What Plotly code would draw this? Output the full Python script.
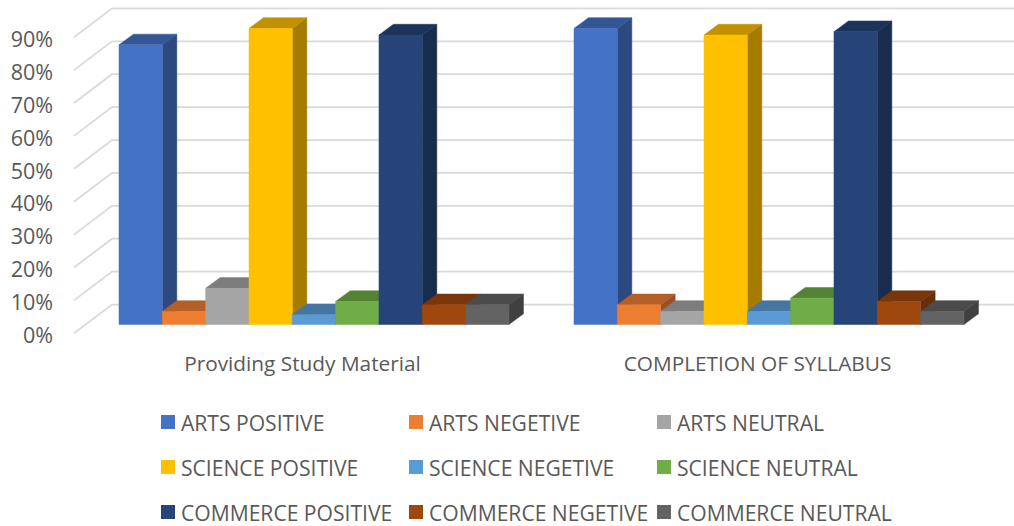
import plotly.graph_objects as go

groups = ["Providing Study Material", "COMPLETION OF SYLLABUS"]
series = ["ARTS POSITIVE", "ARTS NEGETIVE", "ARTS NEUTRAL",
          "SCIENCE POSITIVE", "SCIENCE NEGETIVE", "SCIENCE NEUTRAL",
          "COMMERCE POSITIVE", "COMMERCE NEGETIVE", "COMMERCE NEUTRAL"]
study_material = [85, 4, 11, 90, 3, 7, 88, 6, 6]
syllabus = [90, 6, 4, 88, 4, 8, 89, 7, 4]
colors = ["#4472C4", "#ED7D31", "#A5A5A5", "#FFC000", "#5B9BD5", "#70AD47", "#264478", "#9E480E", "#636363"]
y_ticks = [0, 10, 20, 30, 40, 50, 60, 70, 80, 90]

W, H = 1014, 526
PX_PER_PCT = 3.29
BASE_PX = 324.5     # where 0% of the bars sits
LABEL_PX = 335.5    # where the 0% label sits
BAR_W = 43.33
GROUP_STEP = 455
FIRST_BAR = 119
DEPTH_X = 14.5      # bar depth, px across
DEPTH_Y = 10.7 / PX_PER_PCT
TEXT = "#595959"
FONT = "Open Sans"


def shade(hex_color, k):
    r, g, b = [int(hex_color[i:i + 2], 16) for i in (1, 3, 5)]
    return "rgb(%d,%d,%d)" % (r * k, g * k, b * k)


def face(xs, ys, color):
    return go.Scatter(x=xs, y=ys, mode="lines", fill="toself", fillcolor=color,
                      line=dict(color=color, width=0.5), hoverinfo="skip", showlegend=False)


fig = go.Figure()

# back wall and the slanted side wall
wall_front = (BASE_PX - 333.3) / PX_PER_PCT
wall_back = (BASE_PX - 304.5) / PX_PER_PCT
for t in y_ticks:
    fig.add_trace(go.Scatter(x=[74, 112, W], y=[t + wall_front, t + wall_back, t + wall_back],
                             mode="lines", line=dict(color="#D9D9D9", width=1.75),
                             hoverinfo="skip", showlegend=False))

# bars, painted left to right so each one covers the side of the one before
for g, values in enumerate([study_material, syllabus]):
    for i, v in enumerate(values):
        left = FIRST_BAR + g * GROUP_STEP + i * BAR_W
        right = left + BAR_W
        c = colors[i]
        fig.add_trace(face([right, right + DEPTH_X, right + DEPTH_X, right, right],
                           [0, DEPTH_Y, v + DEPTH_Y, v, 0], shade(c, 0.65)))
        fig.add_trace(face([left, left + DEPTH_X, right + DEPTH_X, right, left],
                           [v, v + DEPTH_Y, v + DEPTH_Y, v, v], shade(c, 0.76)))
        fig.add_trace(face([left, right, right, left, left], [0, 0, v, v, 0], c))

# carries the percent labels, which sit on the front edge of the side wall
fig.add_trace(go.Scatter(x=[74] * len(y_ticks), y=y_ticks, yaxis="y2", mode="markers",
                         marker=dict(opacity=0), hoverinfo="skip", showlegend=False))

# legend, 3 x 3
shapes = []
annotations = []
for i, name in enumerate(series):
    col_x = 161 + (i % 3) * 248
    row_y = 422 + (i // 3) * 45
    shapes.append(dict(type="rect", xref="x", yref="paper", x0=col_x, x1=col_x + 14,
                       y0=1 - (row_y - 7) / H, y1=1 - (row_y + 7) / H,
                       fillcolor=colors[i], line=dict(width=0)))
    annotations.append(dict(text=name, xref="x", yref="paper", x=col_x + 18, y=1 - row_y / H,
                            xanchor="left", yanchor="middle", showarrow=False,
                            font=dict(family=FONT, size=21.1, color=TEXT)))

fig.update_layout(
    width=W, height=H, autosize=False,
    margin=dict(l=0, r=0, t=0, b=0),
    paper_bgcolor="white", plot_bgcolor="white",
    showlegend=False, shapes=shapes, annotations=annotations,
    xaxis=dict(range=[0, W], domain=[0, 1], anchor="free", position=1 - 349 / H,
               showgrid=False, zeroline=False, showline=False, ticks="",
               tickvals=[75 + GROUP_STEP / 2 + g * GROUP_STEP for g in range(len(groups))],
               ticktext=groups, tickfont=dict(family=FONT, size=20.8, color=TEXT)),
    yaxis=dict(range=[(BASE_PX - H) / PX_PER_PCT, BASE_PX / PX_PER_PCT], domain=[0, 1],
               visible=False, showgrid=False, zeroline=False),
    yaxis2=dict(range=[(LABEL_PX - H) / PX_PER_PCT, LABEL_PX / PX_PER_PCT], overlaying="y",
                anchor="free", position=53 / W, side="left", showgrid=False, zeroline=False,
                showline=False, ticks="", tickvals=y_ticks, ticktext=["%d%%" % t for t in y_ticks],
                tickfont=dict(family=FONT, size=21.5, color=TEXT)),
)

# the page's default 8px body margin would push the chart off its place
fig.write_html("out.html", config=dict(displayModeBar=False),
               post_script="document.body.style.margin='0';")
